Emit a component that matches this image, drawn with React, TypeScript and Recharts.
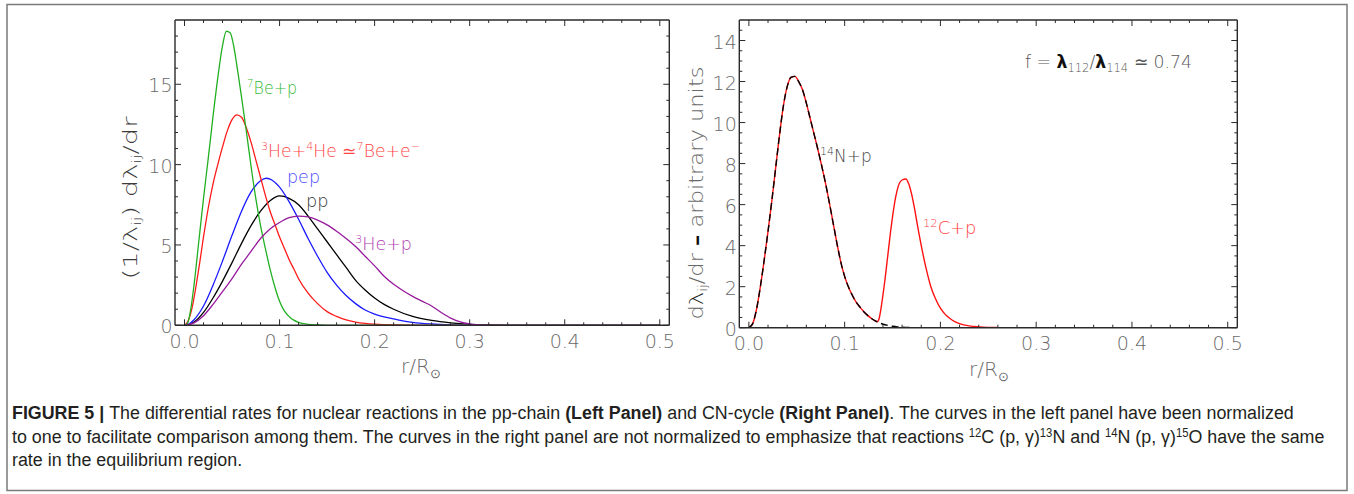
import { LineChart, Line, XAxis, YAxis } from 'recharts';

// ---- left panel: pp-chain, normalized ----
const BE7P_X = [0, 0.003, 0.006, 0.01, 0.015, 0.02, 0.025, 0.03, 0.035, 0.04, 0.044, 0.048, 0.052, 0.056, 0.06, 0.065, 0.07, 0.075, 0.08, 0.085, 0.09, 0.095, 0.1, 0.105, 0.11, 0.115, 0.12, 0.13, 0.14, 0.15, 0.5];
const BE7P_Y = [0, 0.1, 0.8, 2.5, 5.2, 7.9, 10.4, 13.0, 15.4, 17.4, 18.3, 18.2, 17.3, 15.8, 14.2, 12.1, 9.9, 7.9, 6.2, 4.8, 3.5, 2.4, 1.5, 0.9, 0.55, 0.32, 0.18, 0.06, 0.02, 0, 0];

const HE34_X = [0, 0.004, 0.008, 0.012, 0.016, 0.02, 0.025, 0.03, 0.035, 0.04, 0.045, 0.05, 0.055, 0.06, 0.065, 0.07, 0.075, 0.08, 0.085, 0.09, 0.095, 0.1, 0.105, 0.11, 0.115, 0.12, 0.13, 0.14, 0.15, 0.16, 0.17, 0.18, 0.19, 0.2, 0.22, 0.25, 0.5];
const HE34_Y = [0, 0.3, 1.1, 2.4, 3.9, 5.5, 7.3, 8.8, 10.0, 11.1, 12.1, 12.8, 13.1, 12.95, 12.3, 11.4, 10.3, 9.2, 8.1, 7.1, 6.3, 5.5, 4.8, 4.1, 3.5, 2.9, 2.0, 1.35, 0.85, 0.55, 0.33, 0.2, 0.12, 0.07, 0.02, 0, 0];

const PEP_X = [0, 0.005, 0.01, 0.02, 0.03, 0.04, 0.05, 0.06, 0.07, 0.08, 0.086, 0.09, 0.1, 0.11, 0.12, 0.13, 0.14, 0.15, 0.16, 0.17, 0.18, 0.19, 0.2, 0.22, 0.24, 0.26, 0.28, 0.3, 0.32, 0.5];
const PEP_Y = [0, 0.1, 0.35, 1.2, 2.5, 4.0, 5.6, 7.1, 8.3, 9.0, 9.15, 9.1, 8.6, 7.7, 6.6, 5.4, 4.3, 3.3, 2.5, 1.85, 1.35, 0.95, 0.7, 0.4, 0.18, 0.08, 0.03, 0.01, 0, 0];

const PP_X = [0, 0.005, 0.01, 0.02, 0.03, 0.04, 0.05, 0.06, 0.07, 0.08, 0.09, 0.1, 0.11, 0.12, 0.13, 0.14, 0.15, 0.16, 0.17, 0.18, 0.19, 0.2, 0.21, 0.22, 0.24, 0.26, 0.28, 0.3, 0.32, 0.34, 0.5];
const PP_Y = [0, 0.05, 0.2, 0.8, 1.7, 2.75, 3.9, 5.1, 6.2, 7.1, 7.75, 8.05, 7.9, 7.5, 6.8, 6.0, 5.2, 4.4, 3.6, 2.8, 2.2, 1.7, 1.3, 1.0, 0.55, 0.3, 0.15, 0.06, 0.02, 0, 0];

const HE3P_X = [0, 0.01, 0.02, 0.03, 0.04, 0.05, 0.06, 0.07, 0.08, 0.09, 0.1, 0.11, 0.12, 0.13, 0.14, 0.15, 0.16, 0.17, 0.18, 0.19, 0.2, 0.21, 0.22, 0.23, 0.24, 0.25, 0.26, 0.27, 0.28, 0.29, 0.3, 0.31, 0.32, 0.34, 0.5];
const HE3P_Y = [0, 0.15, 0.6, 1.3, 2.1, 2.9, 3.8, 4.6, 5.4, 6.0, 6.4, 6.7, 6.8, 6.75, 6.55, 6.25, 5.85, 5.4, 4.9, 4.3, 3.7, 3.05, 2.55, 2.15, 1.8, 1.5, 1.2, 0.8, 0.45, 0.22, 0.09, 0.03, 0.01, 0, 0];

// ---- right panel: CN-cycle, arbitrary units ----
const N14P_X = [0, 0.004, 0.008, 0.012, 0.016, 0.02, 0.024, 0.028, 0.032, 0.036, 0.04, 0.044, 0.048, 0.052, 0.056, 0.06, 0.064, 0.068, 0.072, 0.076, 0.08, 0.084, 0.088, 0.092, 0.096, 0.1, 0.104, 0.108, 0.112, 0.116, 0.12, 0.124, 0.128, 0.132, 0.136, 0.14, 0.145, 0.15, 0.155, 0.16, 0.17, 0.18, 0.5];
const N14P_Y = [0, 0.2, 0.9, 2.0, 3.3, 4.7, 6.2, 7.8, 9.4, 10.8, 11.75, 12.2, 12.25, 12.0, 11.6, 10.95, 10.2, 9.45, 8.7, 7.9, 7.05, 6.1, 5.1, 4.1, 3.2, 2.5, 1.98, 1.58, 1.25, 1.0, 0.78, 0.6, 0.45, 0.33, 0.24, 0.17, 0.11, 0.07, 0.04, 0.02, 0.005, 0, 0];

const C12P_X = [0, 0.004, 0.008, 0.012, 0.016, 0.02, 0.024, 0.028, 0.032, 0.036, 0.04, 0.044, 0.048, 0.052, 0.056, 0.06, 0.064, 0.068, 0.072, 0.076, 0.08, 0.084, 0.088, 0.092, 0.096, 0.1, 0.104, 0.108, 0.112, 0.116, 0.12, 0.124, 0.128, 0.132, 0.134, 0.136, 0.138, 0.14, 0.142, 0.144, 0.146, 0.148, 0.15, 0.153, 0.156, 0.16, 0.164, 0.167, 0.17, 0.173, 0.176, 0.18, 0.185, 0.19, 0.195, 0.2, 0.205, 0.21, 0.215, 0.22, 0.23, 0.24, 0.25, 0.26, 0.27, 0.5];
const C12P_Y = [0, 0.2, 0.9, 2.0, 3.3, 4.7, 6.2, 7.8, 9.4, 10.8, 11.75, 12.2, 12.25, 12.0, 11.6, 10.95, 10.2, 9.45, 8.7, 7.9, 7.05, 6.1, 5.1, 4.1, 3.2, 2.5, 1.98, 1.58, 1.25, 1.0, 0.78, 0.6, 0.45, 0.33, 0.29, 0.45, 0.95, 1.6, 2.3, 3.1, 3.9, 4.7, 5.4, 6.3, 6.9, 7.2, 7.25, 7.0, 6.5, 5.8, 5.0, 4.0, 2.9, 2.0, 1.4, 0.95, 0.65, 0.45, 0.3, 0.2, 0.09, 0.04, 0.015, 0.005, 0, 0];

// ---- ticks ----
const X_TICKS = [0, 0.02, 0.04, 0.06, 0.08, 0.1, 0.12, 0.14, 0.16, 0.18, 0.2, 0.22, 0.24, 0.26, 0.28, 0.3, 0.32, 0.34, 0.36, 0.38, 0.4, 0.42, 0.44, 0.46, 0.48, 0.5];
const X_MAJOR = [0, 0.1, 0.2, 0.3, 0.4, 0.5];
const LEFT_Y_TICKS = [0, 1, 2, 3, 4, 5, 6, 7, 8, 9, 10, 11, 12, 13, 14, 15, 16, 17, 18];
const LEFT_Y_MAJOR = [0, 5, 10, 15];
const RIGHT_Y_TICKS = [0, 0.5, 1, 1.5, 2, 2.5, 3, 3.5, 4, 4.5, 5, 5.5, 6, 6.5, 7, 7.5, 8, 8.5, 9, 9.5, 10, 10.5, 11, 11.5, 12, 12.5, 13, 13.5, 14, 14.5];
const RIGHT_Y_MAJOR = [0, 2, 4, 6, 8, 10, 12, 14];

const toPoints = (xs: number[], ys: number[]) => xs.map((x, i) => ({ x, y: ys[i] }));

const THIN_FONT = '"DejaVu Sans", "Liberation Sans", sans-serif';
const TICK_FILL = '#6a6a6a';
const FRAME = '#2a2a2a';

type Side = 'bottom' | 'top' | 'left' | 'right';

function makeTick(side: Side, majors: number[], labelled: boolean, fmt: (v: number) => string) {
  return (props: any) => {
    const { x, y, payload } = props;
    const v = payload.value as number;
    const isMajor = majors.some((m) => Math.abs(m - v) < 1e-9);
    const len = isMajor ? 6 : 3;
    let line = { x1: x, y1: y, x2: x, y2: y };
    if (side === 'bottom') line = { x1: x, y1: y, x2: x, y2: y - len };
    if (side === 'top') line = { x1: x, y1: y, x2: x, y2: y + len };
    if (side === 'left') line = { x1: x, y1: y, x2: x + len, y2: y };
    if (side === 'right') line = { x1: x, y1: y, x2: x - len, y2: y };
    return (
      <g key={`${side}-${v}`}>
        <line {...line} stroke={FRAME} strokeWidth={1} />
        {labelled && isMajor && side === 'bottom' && (
          <text x={x} y={y + 15.5} textAnchor="middle" dominantBaseline="central" fontFamily={THIN_FONT} fontWeight={200} fontSize={19} fill={TICK_FILL}>
            {fmt(v)}
          </text>
        )}
        {labelled && isMajor && side === 'left' && (
          <text x={x - 2.5} y={y + 1} textAnchor="end" dominantBaseline="central" fontFamily={THIN_FONT} fontWeight={200} fontSize={19} fill={TICK_FILL}>
            {fmt(v)}
          </text>
        )}
      </g>
    );
  };
}

const fmtX = (v: number) => v.toFixed(1);
const fmtY = (v: number) => String(v);

function Panel({
  width,
  height,
  margin,
  yMax,
  yTicks,
  yMajor,
  children,
}: {
  width: number;
  height: number;
  margin: { top: number; right: number; bottom: number; left: number };
  yMax: number;
  yTicks: number[];
  yMajor: number[];
  children: React.ReactNode;
}) {
  const axisLine = { stroke: FRAME, strokeWidth: 1.4 };
  // each axis takes 1px of the margin
  const m = { top: margin.top - 1, bottom: margin.bottom - 1, left: margin.left - 1, right: margin.right - 1 };
  return (
    <LineChart width={width} height={height} margin={m}>
      <XAxis
        xAxisId="b"
        dataKey="x"
        type="number"
        domain={[-0.01, 0.51]}
        allowDataOverflow
        ticks={X_TICKS}
        interval={0}
        height={1}
        tickSize={0}
        tickMargin={0}
        tickLine={false}
        axisLine={axisLine}
        tick={makeTick('bottom', X_MAJOR, true, fmtX)}
      />
      <XAxis
        xAxisId="t"
        orientation="top"
        dataKey="x"
        type="number"
        domain={[-0.01, 0.51]}
        allowDataOverflow
        ticks={X_TICKS}
        interval={0}
        height={1}
        tickSize={0}
        tickMargin={0}
        tickLine={false}
        axisLine={axisLine}
        tick={makeTick('top', X_MAJOR, false, fmtX)}
      />
      <YAxis
        yAxisId="l"
        type="number"
        domain={[0, yMax]}
        allowDataOverflow
        ticks={yTicks}
        interval={0}
        width={1}
        tickSize={0}
        tickMargin={0}
        tickLine={false}
        axisLine={axisLine}
        tick={makeTick('left', yMajor, true, fmtY)}
      />
      <YAxis
        yAxisId="r"
        orientation="right"
        type="number"
        domain={[0, yMax]}
        allowDataOverflow
        ticks={yTicks}
        interval={0}
        width={1}
        tickSize={0}
        tickMargin={0}
        tickLine={false}
        axisLine={axisLine}
        tick={makeTick('right', yMajor, false, fmtY)}
      />
      {children}
    </LineChart>
  );
}

const sup = { fontSize: 11 };

export default function App() {
  const lineCommon = {
    xAxisId: 'b',
    yAxisId: 'l',
    dataKey: 'y',
    type: 'monotone' as const,
    dot: false,
    activeDot: false as const,
    isAnimationActive: false,
    strokeWidth: 1.3,
  };

  return (
    <div style={{ position: 'absolute', left: 0, top: 0, width: 1354, height: 494, background: '#fff' }}>
      <div style={{ position: 'absolute', left: 0, top: 0 }}>
        <Panel width={690} height={390} margin={{ top: 20, left: 175, right: 20.7, bottom: 64.7 }} yMax={19} yTicks={LEFT_Y_TICKS} yMajor={LEFT_Y_MAJOR}>
          <Line {...lineCommon} data={toPoints(PP_X, PP_Y)} stroke="#000000" />
          <Line {...lineCommon} data={toPoints(PEP_X, PEP_Y)} stroke="#1a1aff" />
          <Line {...lineCommon} data={toPoints(HE34_X, HE34_Y)} stroke="#ff1a1a" />
          <Line {...lineCommon} data={toPoints(BE7P_X, BE7P_Y)} stroke="#22b022" />
          <Line {...lineCommon} data={toPoints(HE3P_X, HE3P_Y)} stroke="#961a9c" />
        </Panel>
      </div>
      <div style={{ position: 'absolute', left: 690, top: 0 }}>
        <Panel width={570} height={390} margin={{ top: 20, left: 49.3, right: 22.7, bottom: 62.3 }} yMax={15} yTicks={RIGHT_Y_TICKS} yMajor={RIGHT_Y_MAJOR}>
          <Line {...lineCommon} data={toPoints(C12P_X, C12P_Y)} stroke="#ff1010" strokeWidth={1.4} />
          <Line {...lineCommon} data={toPoints(N14P_X, N14P_Y)} stroke="#000000" strokeWidth={1.4} strokeDasharray="7 4" />
        </Panel>
      </div>

      <svg width={1354} height={494} style={{ position: 'absolute', left: 0, top: 0, pointerEvents: 'none' }}>
        <rect x={7} y={4.5} width={1340} height={486} fill="none" stroke="#7a7a7a" strokeWidth={1.5} />

        {/* axis titles */}
        <text x={421} y={373} textAnchor="middle" fontFamily={THIN_FONT} fontWeight={200} fontSize={20} fill={TICK_FILL}>
          r/R<tspan dy={5} fontSize={13}>⊙</tspan>
        </text>
        <text x={989} y={376} textAnchor="middle" fontFamily={THIN_FONT} fontWeight={200} fontSize={20} fill={TICK_FILL}>
          r/R<tspan dy={5} fontSize={13}>⊙</tspan>
        </text>
        <text
          x={137}
          y={198}
          transform="rotate(-90 137 198)"
          textAnchor="middle"
          fontFamily={THIN_FONT}
          fontWeight={200}
          fontSize={20}
          fill="#3a3a3a"
          textLength={163}
          lengthAdjust="spacingAndGlyphs"
        >
          (1/λ<tspan dy={4} fontSize={12}>ij</tspan>
          <tspan dy={-4}>) dλ</tspan>
          <tspan dy={4} fontSize={12}>ij</tspan>
          <tspan dy={-4}>/dr</tspan>
        </text>
        <text
          x={703}
          y={193}
          transform="rotate(-90 703 193)"
          textAnchor="middle"
          fontFamily={THIN_FONT}
          fontWeight={200}
          fontSize={20}
          fill={TICK_FILL}
          textLength={253}
          lengthAdjust="spacingAndGlyphs"
        >
          d<tspan fill="#222">λ</tspan>
          <tspan dy={4} fontSize={12}>ij</tspan>
          <tspan dy={-4}>/dr </tspan>
          <tspan fontWeight={700} fill="#111">–</tspan>
          <tspan> arbitrary units</tspan>
        </text>

        {/* left panel labels */}
        <text x={247} y={93.5} fontFamily={THIN_FONT} fontWeight={200} fontSize={17} fill="#35b835" textLength={50} lengthAdjust="spacingAndGlyphs">
          <tspan dy={-7} {...sup}>7</tspan>
          <tspan dy={7}>Be+p</tspan>
        </text>
        <text x={261} y={156.7} fontFamily={THIN_FONT} fontWeight={200} fontSize={17} fill="#ff4545" textLength={159} lengthAdjust="spacingAndGlyphs">
          <tspan dy={-7} {...sup}>3</tspan>
          <tspan dy={7}>He+</tspan>
          <tspan dy={-7} {...sup}>4</tspan>
          <tspan dy={7}>He ≃</tspan>
          <tspan dy={-7} {...sup}>7</tspan>
          <tspan dy={7}>Be+e</tspan>
          <tspan dy={-7} {...sup}>−</tspan>
        </text>
        <text x={287} y={183} fontFamily={THIN_FONT} fontWeight={200} fontSize={17} fill="#4a4aff" textLength={33} lengthAdjust="spacingAndGlyphs">
          pep
        </text>
        <text x={306} y={207} fontFamily={THIN_FONT} fontWeight={200} fontSize={17} fill="#333" textLength={22.5} lengthAdjust="spacingAndGlyphs">
          pp
        </text>
        <text x={355} y={250} fontFamily={THIN_FONT} fontWeight={200} fontSize={17} fill="#b03ab0" textLength={57} lengthAdjust="spacingAndGlyphs">
          <tspan dy={-7} {...sup}>3</tspan>
          <tspan dy={7}>He+p</tspan>
        </text>

        {/* right panel labels */}
        <text x={820} y={161.7} fontFamily={THIN_FONT} fontWeight={200} fontSize={17} fill="#444" textLength={51.7} lengthAdjust="spacingAndGlyphs">
          <tspan dy={-7} {...sup}>14</tspan>
          <tspan dy={7}>N+p</tspan>
        </text>
        <text x={923} y={234} fontFamily={THIN_FONT} fontWeight={200} fontSize={17} fill="#ff4040" textLength={53.4} lengthAdjust="spacingAndGlyphs">
          <tspan dy={-7} {...sup}>12</tspan>
          <tspan dy={7}>C+p</tspan>
        </text>
        <text x={1025} y={68.3} fontFamily={THIN_FONT} fontWeight={200} fontSize={18} fill="#555" textLength={167} lengthAdjust="spacingAndGlyphs">
          f = <tspan fontWeight={700} fill="#111">λ</tspan>
          <tspan dy={4} fontSize={12}>112</tspan>
          <tspan dy={-4}>/</tspan>
          <tspan fontWeight={700} fill="#111">λ</tspan>
          <tspan dy={4} fontSize={12}>114</tspan>
          <tspan dy={-4}> ≃ 0.74</tspan>
        </text>

        {/* caption: condensed look via horizontal scale */}
        <g transform="translate(12 0) scale(0.94 1)" fontFamily='"Liberation Sans", Arial, sans-serif' fontSize={19} fill="#231f20">
          <text x={0} y={419}>
            <tspan fontWeight={700}>FIGURE 5 | </tspan>
            <tspan>The differential rates for nuclear reactions in the pp-chain </tspan>
            <tspan fontWeight={700}>(Left Panel)</tspan>
            <tspan> and CN-cycle </tspan>
            <tspan fontWeight={700}>(Right Panel)</tspan>
            <tspan>. The curves in the left panel have been normalized</tspan>
          </text>
          <text x={0} y={443}>
            <tspan>to one to facilitate comparison among them. The curves in the right panel are not normalized to emphasize that reactions </tspan>
            <tspan dy={-6} fontSize={12}>12</tspan>
            <tspan dy={6}>C (p, γ)</tspan>
            <tspan dy={-6} fontSize={12}>13</tspan>
            <tspan dy={6}>N and </tspan>
            <tspan dy={-6} fontSize={12}>14</tspan>
            <tspan dy={6}>N (p, γ)</tspan>
            <tspan dy={-6} fontSize={12}>15</tspan>
            <tspan dy={6}>O have the same</tspan>
          </text>
          <text x={0} y={466}>rate in the equilibrium region.</text>
        </g>
      </svg>
    </div>
  );
}
